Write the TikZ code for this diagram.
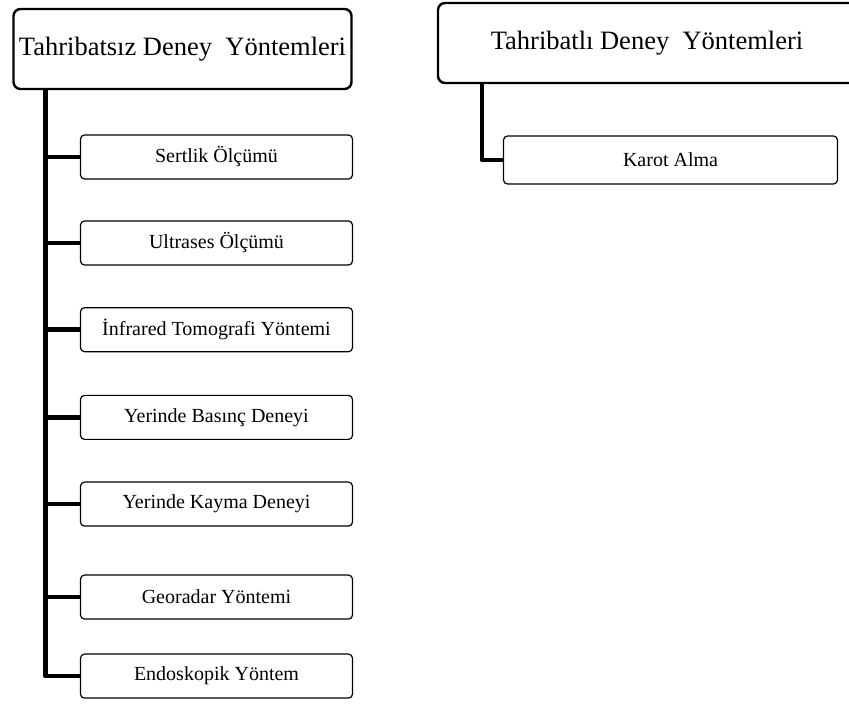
\documentclass[tikz,border=0pt]{standalone}
\usepackage{fontspec}
\setmainfont{Liberation Serif}
\usepackage{tikz}
\usetikzlibrary{positioning,calc}
\tikzset{
  rootbox/.style={draw,line width=2.4pt,rounded corners=7pt,fill=white,minimum height=80pt,inner sep=0pt,font=\fontsize{26.5}{30}\selectfont},
  methodbox/.style={draw,line width=1.2pt,rounded corners=4pt,minimum width=272pt,minimum height=44pt,inner sep=0pt,font=\fontsize{20}{24}\selectfont},
  branch/.style={line width=4.6pt,line join=round}
}

\begin{document}
\begin{tikzpicture}[x=1pt,y=1pt,node distance=41.5pt]
  \useasboundingbox (0,0) rectangle (849,704);
  \node[rootbox,minimum width=338pt] (tsroot) at (182.5,655) {Tahribatsız Deney~~Yöntemleri};
  \node[rootbox,minimum width=424pt] (tbroot) at (650,661) {\hspace*{-6pt}Tahribatlı Deney~~Yöntemleri};
  \node[methodbox] (sertlik) at (216.5,547) {Sertlik Ölçümü};
  \node[methodbox,below=40.8pt of sertlik] (ultrases) {Ultrases Ölçümü};
  \node[methodbox,below=of ultrases] (infrared) {İnfrared Tomografi Yöntemi};
  \node[methodbox,below=42.5pt of infrared] (basinc) {Yerinde Basınç Deneyi};
  \node[methodbox,below=of basinc] (kayma) {Yerinde Kayma Deneyi};
  \node[methodbox,below=47.8pt of kayma] (georadar) {Georadar Yöntemi};
  \node[methodbox,below=33.8pt of georadar] (endoskopik) {Endoskopik Yöntem};
  \node[methodbox,minimum width=334pt,minimum height=48pt] (karot) at (670.5,544) {Karot Alma};
  \coordinate (lspine) at ([xshift=33pt]tsroot.south west);
  \coordinate (rspine) at ([xshift=45pt]tbroot.south west);
  % left tree
  \draw[branch] (lspine) |- (endoskopik.west);
  \draw[branch] (lspine |- sertlik.west) -- (sertlik.west);
  \draw[branch] (lspine |- ultrases.west) -- (ultrases.west);
  \draw[branch] (lspine |- infrared.west) -- (infrared.west);
  \draw[branch] (lspine |- basinc.west) -- (basinc.west);
  \draw[branch] (lspine |- kayma.west) -- (kayma.west);
  \draw[branch] (lspine |- georadar.west) -- (georadar.west);
  % right tree
  \draw[branch] (rspine) |- (karot.west);
\end{tikzpicture}
\end{document}
